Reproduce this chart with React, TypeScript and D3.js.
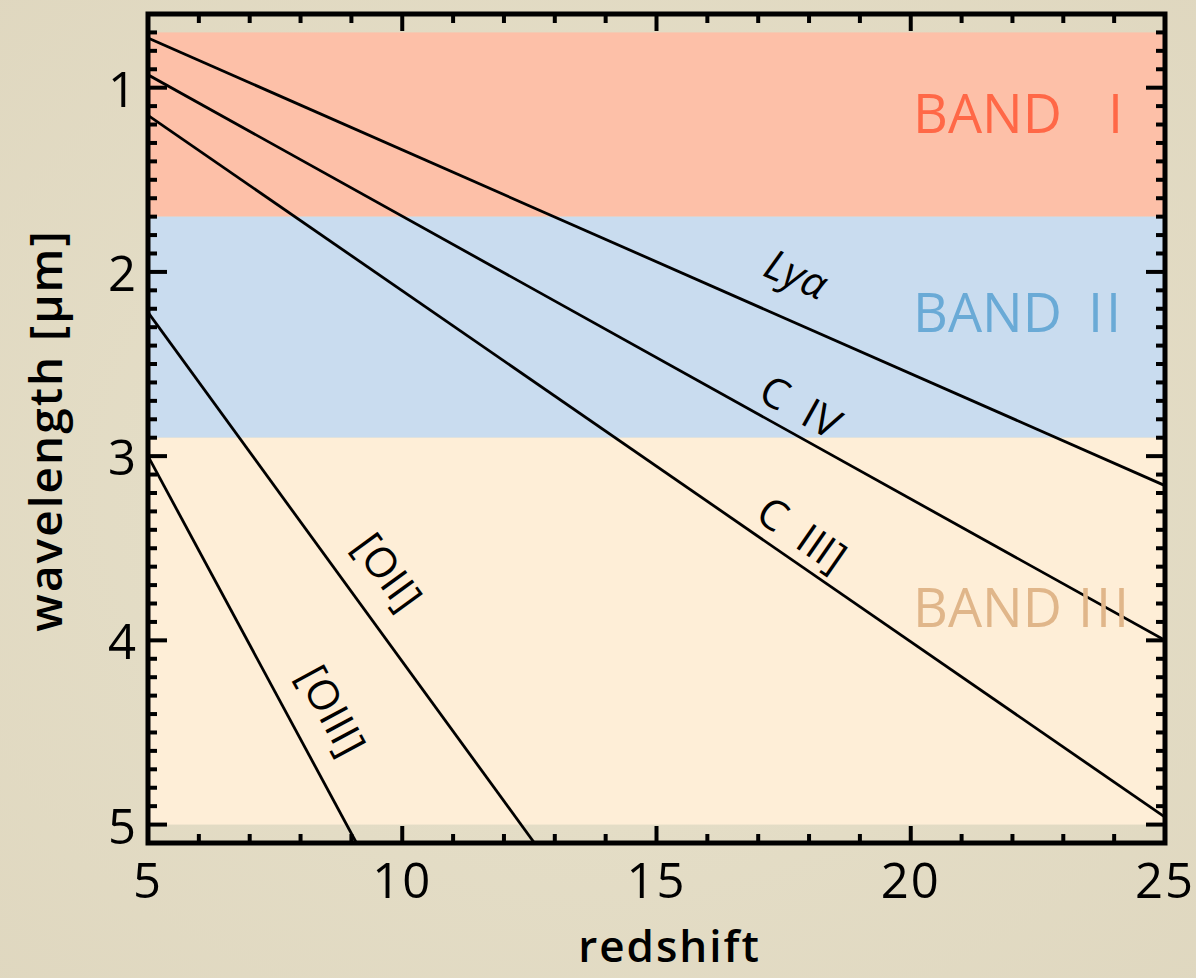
import React from "react";
import * as d3 from "d3";

// Data
const xMajorTicks = [5, 10, 15, 20, 25];
const yMajorTicks = [1, 2, 3, 4, 5];
const bandNames = ["BAND", "BAND", "BAND"];
const bandNumerals = ["I", "II", "III"];
const bandStart = [0.7, 1.7, 2.9];
const bandEnd = [1.7, 2.9, 5.0];
const lineNames = ["Lyα", "C IV", "C III]", "[OII]", "[OIII]"];
// endpoints [z, wavelength]
const lineStart = [[5, 0.73], [5, 0.93], [5, 1.15], [5, 2.22], [5, 3.0]];
const lineEnd = [[25, 3.16], [25, 4.0], [25, 4.96], [12.6, 5.1], [9.1, 5.1]];
const labelPos = [[17.72, 2.03], [17.8, 2.75], [17.82, 3.44], [9.66, 3.64], [8.55, 4.39]];

const W = 1196;
const H = 978;
const L = 148, R = 1165, T = 14, B = 843;

const bandFill = ["#FDC0A8", "#C9DCEF", "#FEEED7"];
const bandText = ["#FF6847", "#6AAAD6", "#E0B68A"];
const bandLabelY = [1.17, 2.25, 3.85];
const bandGap = [46, 26, 16];

export default function App() {
  const x = d3.scaleLinear().domain([5, 25]).range([L, R]);
  const y = d3.scaleLinear().domain([0.6, 5.1]).range([T, B]);
  const xMinor = d3.range(5, 25.001, 1);
  const yMinor = d3.range(6, 52, 1).map((v) => v / 10);
  const font = "'Open Sans', 'DejaVu Sans', sans-serif";
  const line = d3.line<number[]>().x((d) => x(d[0])).y((d) => y(d[1]));

  return (
    <div style={{ position: "absolute", left: 0, top: 0 }}>
      <svg width={W} height={H} style={{ display: "block" }}>
        <defs>
          <clipPath id="plot">
            <rect x={L} y={T} width={R - L} height={B - T} />
          </clipPath>
          <radialGradient id="bg" cx="50%" cy="50%" r="75%">
            <stop offset="0%" stopColor="#E8E2CC" />
            <stop offset="100%" stopColor="#DFD7BF" />
          </radialGradient>
        </defs>
        <rect x={0} y={0} width={W} height={H} fill="url(#bg)" />
        <g clipPath="url(#plot)">
          {bandStart.map((s, i) => (
            <rect key={"b" + i} x={L} width={R - L} y={y(s)} height={y(bandEnd[i]) - y(s)} fill={bandFill[i]} />
          ))}
          {lineNames.map((n, i) => (
            <path key={n} d={line([lineStart[i], lineEnd[i]]) || ""} stroke="#000" strokeWidth={2.8} fill="none" />
          ))}
        </g>
        {bandNames.map((n, i) => (
          <text key={"bt" + i} x={913} y={y(bandLabelY[i])} fill={bandText[i]} fontFamily={font} fontSize={54} fontWeight={400} dominantBaseline="middle">
            {n}
            <tspan dx={bandGap[i]} letterSpacing={3}>{bandNumerals[i]}</tspan>
          </text>
        ))}
        {lineNames.map((n, i) => {
          const px0 = x(lineStart[i][0]), py0 = y(lineStart[i][1]);
          const px1 = x(lineEnd[i][0]), py1 = y(lineEnd[i][1]);
          const ang = (Math.atan2(py1 - py0, px1 - px0) * 180) / Math.PI;
          const lx = x(labelPos[i][0]), ly = y(labelPos[i][1]);
          return (
            <text key={n} x={lx} y={ly} transform={`rotate(${ang},${lx},${ly})`} textAnchor="middle" dominantBaseline="middle" fontFamily={font} fontSize={42} fill="#000" fontStyle={i === 0 ? "italic" : "normal"}>
              {n.replace(" ", "\u00a0\u00a0")}
            </text>
          );
        })}
        {/* ticks */}
        <g stroke="#000" strokeWidth={4}>
          {xMinor.map((v) => {
            const len = xMajorTicks.includes(v) ? 17 : 9;
            return (
              <g key={"x" + v}>
                <line x1={x(v)} x2={x(v)} y1={B} y2={B - len} />
                <line x1={x(v)} x2={x(v)} y1={T} y2={T + len} />
              </g>
            );
          })}
          {yMinor.map((v) => {
            const len = yMajorTicks.includes(v) ? 19 : 9;
            return (
              <g key={"y" + v}>
                <line x1={L} x2={L + len} y1={y(v)} y2={y(v)} />
                <line x1={R} x2={R - len} y1={y(v)} y2={y(v)} />
              </g>
            );
          })}
        </g>
        <rect x={L} y={T} width={R - L} height={B - T} fill="none" stroke="#000" strokeWidth={5} />
        {xMajorTicks.map((v) => (
          <text key={"xl" + v} x={x(v)} y={898} textAnchor="middle" fontFamily={font} fontSize={49} letterSpacing={2} fontWeight={500} fill="#000">
            {v}
          </text>
        ))}
        {yMajorTicks.map((v) => (
          <text key={"yl" + v} x={136} y={y(v)} textAnchor="end" dominantBaseline="central" fontFamily={font} fontSize={49} fontWeight={500} fill="#000">
            {v}
          </text>
        ))}
        <text x={(L + R) / 2 + 13} y={962} textAnchor="middle" fontFamily={font} fontSize={44} letterSpacing={2} fontWeight={600} fill="#000">
          redshift
        </text>
        <text transform={`translate(62,${(T + B) / 2 + 2}) rotate(-90)`} textAnchor="middle" fontFamily={font} fontSize={46} letterSpacing={2} fontWeight={600} fill="#000">
          wavelength [μm]
        </text>
      </svg>
    </div>
  );
}
